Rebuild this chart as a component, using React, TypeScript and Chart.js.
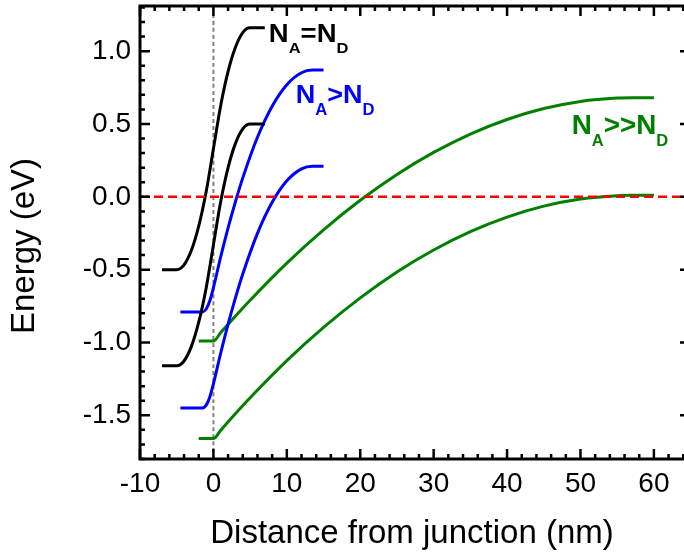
import React, { useEffect, useRef } from 'react';
import { Chart, registerables } from 'chart.js';

Chart.register(...registerables);

const FONT = '"Liberation Sans", Arial, Helvetica, sans-serif';

// Axis ranges and ticks
const X_MIN = -10;
const X_MAX = 64.1;
const Y_MIN = -1.8;
const Y_MAX = 1.31;
const X_STEP = 10;
const Y_STEP = 0.5;

// N_A = N_D (black)
const blackX = [-7, -5, -4, -3, -2, -1, 0, 1, 2, 3, 4, 5, 7];
const blackUpper = [-0.5, -0.5, -0.467, -0.367, -0.201, 0.031, 0.33, 0.629, 0.861, 1.027, 1.127, 1.16, 1.16];
const blackLower = [-1.16, -1.16, -1.127, -1.027, -0.861, -0.629, -0.33, -0.031, 0.201, 0.367, 0.467, 0.5, 0.5];

// N_A > N_D (blue)
const blueX = [-4.5, -1.5, -1, -0.5, 0, 1, 2, 3, 4, 6, 8, 10, 12, 13.5, 15];
const blueUpper = [-0.79, -0.79, -0.772, -0.716, -0.624, -0.411, -0.214, -0.034, 0.13, 0.409, 0.622, 0.77, 0.852, 0.87, 0.87];
const blueLower = [-1.45, -1.45, -1.432, -1.376, -1.284, -1.071, -0.874, -0.694, -0.53, -0.251, -0.038, 0.11, 0.192, 0.21, 0.21];

// N_A >> N_D (green)
const greenX = [-2, 0, 1, 2.5, 5, 10, 15, 20, 25, 30, 35, 40, 45, 50, 55, 57, 60];
const greenUpper = [-0.99, -0.99, -0.932, -0.847, -0.71, -0.455, -0.227, -0.024, 0.154, 0.305, 0.431, 0.531, 0.606, 0.655, 0.678, 0.68, 0.68];
const greenLower = [-1.66, -1.66, -1.602, -1.517, -1.38, -1.125, -0.897, -0.694, -0.516, -0.365, -0.239, -0.139, -0.064, -0.015, 0.008, 0.01, 0.01];

// Reference lines
const fermiX = [X_MIN, X_MAX];
const fermiY = [0, 0];
const junctionX = [0, 0];
const junctionY = [Y_MIN, Y_MAX];

// Curve labels: [text, isSubscript]
const labelEq: [string, boolean][] = [['N', false], ['A', true], ['=', false], ['N', false], ['D', true]];
const labelGt: [string, boolean][] = [['N', false], ['A', true], ['>', false], ['N', false], ['D', true]];
const labelGtGt: [string, boolean][] = [['N', false], ['A', true], ['>>', false], ['N', false], ['D', true]];

const curveLabels = [
  { parts: labelEq, x: 7.55, y: 1.062, color: '#000000', size: 25, sx: 1.1 },
  { parts: labelGt, x: 11.2, y: 0.643, color: '#0000ff', size: 26, sx: 1.04 },
  { parts: labelGtGt, x: 48.8, y: 0.43, color: '#008000', size: 27, sx: 1.03 },
];

const pts = (xs: number[], ys: number[]) => xs.map((x, i) => ({ x, y: ys[i] }));

const framePlugin = {
  id: 'frameTicks',
  afterDraw(chart: any) {
    const { ctx, chartArea: a, scales } = chart;
    const xs = scales.x;
    const ys = scales.y;
    const right = a.right + 6;
    ctx.save();
    ctx.strokeStyle = '#000';
    ctx.lineWidth = 3;
    ctx.beginPath();
    ctx.moveTo(right, a.top);
    ctx.lineTo(a.left, a.top);
    ctx.lineTo(a.left, a.bottom);
    ctx.lineTo(right, a.bottom);
    ctx.stroke();

    ctx.lineWidth = 2.5;
    ctx.beginPath();
    for (let i = -5; i <= 32; i++) {
      const v = i * 2;
      const px = xs.getPixelForValue(v);
      if (px > a.right + 2) continue;
      const len = v % 10 === 0 ? 10 : 5;
      ctx.moveTo(px, a.bottom);
      ctx.lineTo(px, a.bottom - len);
      ctx.moveTo(px, a.top);
      ctx.lineTo(px, a.top + len);
    }
    for (let i = -18; i <= 13; i++) {
      const py = ys.getPixelForValue(i / 10);
      const len = i % 5 === 0 ? 10 : 5;
      ctx.moveTo(a.left, py);
      ctx.lineTo(a.left + len, py);
      ctx.moveTo(right, py);
      ctx.lineTo(right - len, py);
    }
    ctx.stroke();

    // Curve labels
    for (const lab of curveLabels) {
      const px = xs.getPixelForValue(lab.x);
      const py = ys.getPixelForValue(lab.y);
      ctx.save();
      ctx.translate(px, py);
      ctx.scale(lab.sx, 1);
      ctx.fillStyle = lab.color;
      ctx.textAlign = 'left';
      ctx.textBaseline = 'alphabetic';
      let cx = 0;
      for (const [t, sub] of lab.parts) {
        const s = sub ? Math.round(lab.size * 0.6) : lab.size;
        ctx.font = `bold ${s}px ${FONT}`;
        ctx.fillText(t, cx, sub ? lab.size * 0.45 : 0);
        cx += ctx.measureText(t).width;
      }
      ctx.restore();
    }

    // Y axis title
    ctx.save();
    ctx.translate(24.5, 246);
    ctx.rotate(-Math.PI / 2);
    ctx.fillStyle = '#000';
    ctx.font = `33px ${FONT}`;
    ctx.textAlign = 'center';
    ctx.textBaseline = 'middle';
    ctx.fillText('Energy (eV)', 0, 0);
    ctx.restore();

    ctx.restore();
  },
};

const line = (data: any, color: string, width: number, dash: number[] = []) => ({
  data,
  borderColor: color,
  backgroundColor: color,
  borderWidth: width,
  borderDash: dash,
  pointRadius: 0,
  fill: false,
  cubicInterpolationMode: 'monotone' as const,
});

export default function App() {
  const ref = useRef<HTMLCanvasElement | null>(null);
  useEffect(() => {
    if (!ref.current) return;
    const chart = new Chart(ref.current, {
      type: 'line',
      data: {
        datasets: [
          line(pts(fermiX, fermiY), '#ff0000', 2.5, [9, 5]),
          line(pts(blackX, blackUpper), '#000000', 3),
          line(pts(blackX, blackLower), '#000000', 3),
          line(pts(blueX, blueUpper), '#0000ff', 3),
          line(pts(blueX, blueLower), '#0000ff', 3),
          line(pts(greenX, greenUpper), '#008000', 3),
          line(pts(greenX, greenLower), '#008000', 3),
          line(pts(junctionX, junctionY), '#808080', 2, [4, 3]),
        ] as any,
      },
      options: {
        animation: false,
        responsive: false,
        devicePixelRatio: 1,
        layout: { padding: { top: 6, right: 0, left: 0, bottom: 0 } },
        plugins: { legend: { display: false }, tooltip: { enabled: false } },
        scales: {
          x: {
            type: 'linear',
            min: X_MIN,
            max: X_MAX,
            grid: { display: false, drawTicks: false },
            border: { display: false },
            ticks: {
              stepSize: X_STEP,
              includeBounds: false,
              autoSkip: false,
              maxRotation: 0,
              padding: 8,
              color: '#000',
              font: { family: FONT, size: 28 },
              callback: (v: any) => String(v),
            },
            title: {
              display: true,
              text: 'Distance from junction (nm)',
              color: '#000',
              font: { family: FONT, size: 33 },
              padding: { top: 0, bottom: 2 },
            },
            afterFit: (s: any) => {
              s.height = 97;
              s.paddingLeft = 0;
              s.paddingRight = 0;
            },
          },
          y: {
            type: 'linear',
            min: Y_MIN,
            max: Y_MAX,
            grid: { display: false, drawTicks: false },
            border: { display: false },
            ticks: {
              stepSize: Y_STEP,
              includeBounds: false,
              padding: 9,
              color: '#000',
              font: { family: FONT, size: 28 },
              callback: (v: any) => Number(v).toFixed(1),
            },
            afterFit: (s: any) => {
              s.width = 140;
              s.paddingTop = 0;
              s.paddingBottom = 0;
            },
          },
        },
      },
      plugins: [framePlugin],
    });
    return () => chart.destroy();
  }, []);
  return (
    <div style={{ position: 'absolute', left: 0, top: 0, width: 684, height: 556, background: '#fff' }}>
      <canvas ref={ref} width={684} height={556} />
    </div>
  );
}
